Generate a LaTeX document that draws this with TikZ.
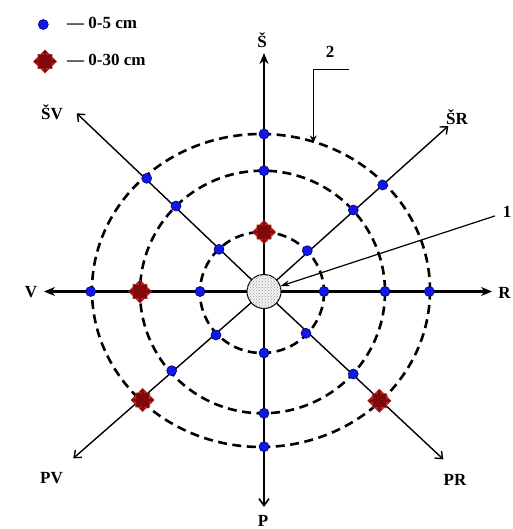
\documentclass[tikz,border=0pt]{standalone}
\usepackage{fontspec}
\setmainfont{Liberation Serif}
\usetikzlibrary{arrows.meta,patterns}
\definecolor{mred}{RGB}{128,8,8}
\definecolor{mredb}{RGB}{175,35,35}
\definecolor{dblue}{RGB}{0,0,110}
\definecolor{fblue}{RGB}{15,25,235}
\begin{document}
\begin{tikzpicture}[x=1pt,y=-1pt,
  lab/.style={font=\fontsize{17}{17}\selectfont\bfseries, inner sep=1pt},
  bdot/.style={circle, fill=fblue, draw=dblue, line width=0.6pt, minimum size=10pt, inner sep=0pt},
  ring/.style={line width=2.6pt, dash pattern=on 9pt off 5.5pt},
  axis/.style={line width=2.2pt, -{Stealth[length=11pt,width=9pt]}},
  diag/.style={line width=1.4pt, -{Straight Barb[length=6pt,width=10pt,line width=1.4pt]}},
  leader/.style={line width=1.2pt},
  redmark/.pic={\filldraw[fill=mred, draw=mredb, line width=0.7pt]
    (0,-11.5) -- (3.5,-8) -- (1.5,-8) -- (1.5,-7) -- (7,-7) -- (7,-1.5) -- (8,-1.5) -- (8,-3.5) -- (11.5,0)
    -- (8,3.5) -- (8,1.5) -- (7,1.5) -- (7,7) -- (1.5,7) -- (1.5,8) -- (3.5,8) -- (0,11.5)
    -- (-3.5,8) -- (-1.5,8) -- (-1.5,7) -- (-7,7) -- (-7,1.5) -- (-8,1.5) -- (-8,3.5) -- (-11.5,0)
    -- (-8,-3.5) -- (-8,-1.5) -- (-7,-1.5) -- (-7,-7) -- (-1.5,-7) -- (-1.5,-8) -- (-3.5,-8) -- cycle;}
]
\useasboundingbox (0,0) rectangle (512,529);

% centre and axis tips
\coordinate (O) at (264,291.5);
\coordinate (tN) at (264,53);
\coordinate (tS) at (264,507);
\coordinate (tW) at (44,291.5);
\coordinate (tE) at (492,291.5);
\coordinate (tNW) at (76.7,113.3);
\coordinate (tNE) at (448.3,126);
\coordinate (tSW) at (73.3,458.3);
\coordinate (tSE) at (443.3,459.3);

% dashed rings
\draw[ring] (262,292.5) ellipse [x radius=62, y radius=60.5];
\draw[ring] (262.5,292) ellipse [x radius=122.5, y radius=121.3];
\draw[ring] (261,290.5) ellipse [x radius=169, y radius=156.5];

% axes
\draw[axis] (O) -- (tN);
\draw[line width=2.2pt, -{Straight Barb[length=7pt,width=10pt,line width=1.6pt]}] (O) -- (tS);
\draw[axis, line width=2.5pt] (O) -- (tW);
\draw[axis, line width=2.5pt] (O) -- (tE);
\draw[diag] (O) -- (tNW);
\draw[diag] (O) -- (tNE);
\draw[diag] (O) -- (tSW);
\draw[diag] (O) -- (tSE);

% direction labels
\node[lab] (lN) at (262,40) {Š};
\node[lab] (lS) at (263,521) {P};
\node[lab] (lW) at (31,292) {V};
\node[lab] (lE) at (504.5,293) {R};
\node[lab] (lNW) at (52,112) {ŠV};
\node[lab] (lNE) at (457,117) {ŠR};
\node[lab] (lSW) at (51.5,478) {PV};
\node[lab] (lSE) at (455,480) {PR};

% sample points 0-5 cm
\node[bdot] (v1) at (264,134) {};
\node[bdot] (v2) at (264,170.7) {};
\node[bdot] (v4) at (264,353) {};
\node[bdot] (v5) at (264,413.3) {};
\node[bdot] (v6) at (264,446.7) {};
\node[bdot] (h1) at (90.7,291.5) {};
\node[bdot] (h3) at (200,291.5) {};
\node[bdot] (h4) at (324,291.5) {};
\node[bdot] (h5) at (385,291.5) {};
\node[bdot] (h6) at (429.3,291.5) {};
\node[bdot] (nw1) at (146.7,178.3) {};
\node[bdot] (nw2) at (176,206) {};
\node[bdot] (nw3) at (219,249.3) {};
\node[bdot] (ne1) at (382.7,185) {};
\node[bdot] (ne2) at (353.3,210) {};
\node[bdot] (ne3) at (307.3,250.7) {};
\node[bdot] (sw2) at (171.7,370.7) {};
\node[bdot] (sw3) at (216,335) {};
\node[bdot] (se2) at (353.3,374) {};
\node[bdot] (se3) at (306,333.3) {};

% sample points 0-30 cm
\pic at (264,232) {redmark};
\pic at (140,291.5) {redmark};
\pic at (142.7,400) {redmark};
\pic at (379.3,400.7) {redmark};

% centre
\node[circle, minimum size=34pt, inner sep=0pt, draw=black, line width=1pt, fill=gray!10,
  postaction={pattern=crosshatch dots, pattern color=gray!80}] (c) at (O) {};

% leader 1
\node[lab] (l1) at (507,212) {1};
\draw[leader, shorten <=7pt, -{Stealth[length=9pt,width=6pt]}] (l1) -- (c);

% leader 2
\node[lab] (l2) at (330,52) {2};
\coordinate (k2a) at (349.3,69.3);
\coordinate (k2b) at (313.3,69.3);
\coordinate (k2c) at (313.3,142.5);
\draw[leader, -{Stealth[length=7pt,width=7pt]}] (k2a) -- (k2b) -- (k2c);

% legend
\node[bdot] (ld) at (43.3,24.5) {};
\node[lab, anchor=west] (lt1) at (66,23) {— 0-5 cm};
\pic at (45,61.5) {redmark};
\node[lab, anchor=west] (lt2) at (66,60) {— 0-30 cm};
\end{tikzpicture}
\end{document}
